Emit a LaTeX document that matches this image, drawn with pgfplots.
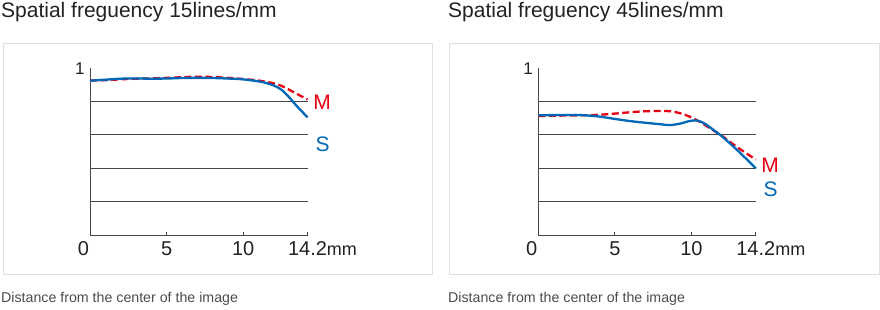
\documentclass[border=0pt]{standalone}
\usepackage{pgfplots}
\pgfplotsset{compat=1.18}
\usepackage{fontspec}
\setmainfont{Liberation Sans}
\definecolor{mred}{RGB}{230,0,18}
\definecolor{sblue}{RGB}{0,104,183}
\definecolor{gridc}{RGB}{70,70,70}
\definecolor{boxc}{RGB}{224,224,224}
\definecolor{txt}{RGB}{34,34,34}
\pgfplotsset{
  mtf/.style={
    scale only axis, width=217.5bp, height=167bp,
    xmin=0, xmax=14.2, ymin=0, ymax=1,
    axis x line*=bottom, axis y line*=left,
    axis line style={draw=gridc, line width=1bp},
    xtick={0,5,10,14.2},
    xticklabels={\llap{0\kern1bp}, 5, 10, 14.2\rlap{\fontsize{18bp}{18bp}\selectfont mm}},
    tick align=inside, major tick length=3bp,
    x tick style={draw=gridc, line width=0.8bp},
    ytick={0.2,0.4,0.6,0.8}, yticklabels={,,,},
    y tick style={draw=none},
    ymajorgrids, major grid style={draw=gridc, line width=0.9bp},
    extra y ticks={1}, extra y tick labels={1},
    extra y tick style={grid=none, yticklabel style={font=\fontsize{17bp}{17bp}\selectfont, text=txt, xshift=-2bp, yshift=-1bp}},
    xticklabel style={font=\fontsize{20bp}{20bp}\selectfont, text=txt, yshift=-3bp},
    /pgf/number format/assume math mode=true,
    clip=false,
  },
  mline/.style={mred, line width=2.3bp, dash pattern=on 7bp off 3.5bp, smooth, tension=0.5},
  sline/.style={sblue, line width=2.3bp, smooth, tension=0.5},
}
\begin{document}
\begin{tikzpicture}[x=1bp,y=1bp]
\useasboundingbox (0,0) rectangle (880,309);
\draw[boxc, line width=1bp] (3,34.5) rectangle (432.5,266);
\draw[boxc, line width=1bp] (449,34.5) rectangle (879.5,266);
\node[anchor=base west, inner sep=0, text=txt, font=\fontsize{21bp}{22bp}\selectfont] at (1,292) {Spatial freguency 15lines/mm};
\node[anchor=base west, inner sep=0, text=txt, font=\fontsize{21bp}{22bp}\selectfont] at (448,292) {Spatial freguency 45lines/mm};
\node[anchor=base west, inner sep=0, text=black!70, font=\fontsize{14.2bp}{16bp}\selectfont] at (1,7) {Distance from the center of the image};
\node[anchor=base west, inner sep=0, text=black!70, font=\fontsize{14.2bp}{16bp}\selectfont] at (448,7) {Distance from the center of the image};

\begin{axis}[mtf, at={(90bp,74bp)}, anchor=south west]
\addplot[mline] coordinates {(0,0.924) (1,0.927) (2,0.932) (3,0.936) (4,0.938) (5,0.941) (6,0.945) (7,0.948) (8,0.946) (9,0.941) (10,0.934) (11,0.925) (12,0.908) (12.5,0.893) (13,0.870) (13.5,0.845) (14.2,0.812)};
\addplot[sline] coordinates {(0,0.924) (1,0.930) (2,0.936) (3,0.937) (4,0.936) (5,0.937) (6,0.940) (7,0.941) (8,0.940) (9,0.937) (10,0.932) (11,0.920) (11.5,0.910) (12,0.895) (12.5,0.870) (13,0.825) (13.5,0.772) (14.2,0.705)};
\end{axis}
\node[text=mred, font=\fontsize{21bp}{21bp}\selectfont, inner sep=0] at (322,206.5) {M};
\node[text=sblue, font=\fontsize{21bp}{21bp}\selectfont, inner sep=0] at (322.5,165) {S};

\begin{axis}[mtf, at={(538.3bp,74bp)}, anchor=south west]
\addplot[mline] coordinates {(0,0.713) (1,0.714) (2,0.716) (3,0.717) (4,0.720) (5,0.727) (6,0.735) (7,0.741) (8,0.743) (8.7,0.740) (9.3,0.728) (9.9,0.708) (10.5,0.680) (11,0.652) (11.5,0.622) (12,0.593) (13,0.525) (14.2,0.452)};
\addplot[sline] coordinates {(0,0.717) (1,0.718) (2,0.719) (3,0.717) (4,0.709) (5,0.695) (6,0.682) (7,0.672) (8,0.663) (8.6,0.658) (9.3,0.668) (9.9,0.683) (10.4,0.685) (10.9,0.665) (11.5,0.625) (12,0.590) (13,0.507) (14.2,0.400)};
\end{axis}
\node[text=mred, font=\fontsize{21bp}{21bp}\selectfont, inner sep=0] at (770,144) {M};
\node[text=sblue, font=\fontsize{21bp}{21bp}\selectfont, inner sep=0] at (770.5,120) {S};
\end{tikzpicture}
\end{document}
